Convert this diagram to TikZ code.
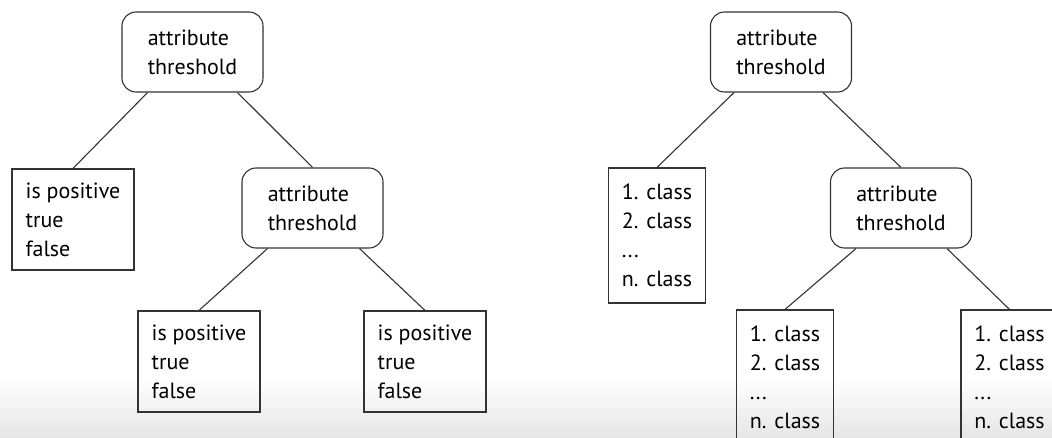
\documentclass[tikz,border=0pt]{standalone}
\usepackage{fontspec}
\setmainfont{PT Sans}
\tikzset{
decision/.style={
	  draw, rounded corners=14pt, align=left,
	    minimum width=141pt, minimum height=80pt},
leafbox/.style={
	  draw, align=left, minimum width=122pt, minimum height=101pt},
classbox/.style={
	  draw, align=left, minimum width=97pt, minimum height=135pt}
}
\newcommand{\split}{attribute\\threshold}
\newcommand{\ispos}{is positive\\true\\false}
\newcommand{\classes}{1. class\\2. class\\...\\n. class}

\begin{document}
\begin{tikzpicture}[x=1pt, y=-1pt, line width=1.1pt, draw=black!80,
	every node/.style={font=\fontsize{22}{29}\selectfont, inner sep=0pt}]
	\useasboundingbox (0,0) rectangle (1052,438);
	\clip (0,0) rectangle (1052,438);
	\shade[top color=white, bottom color=black!10, draw=none] (0,378) rectangle (1052,438);
	% left tree
	\node[decision] (r1) at (192.5,52) {\split};
	\node[leafbox] (p1) at (73,219.5) {\ispos};
	\node[decision] (d1) at (312.5,208) {\split};
	\node[leafbox] (p2) at (199,361.5) {\ispos};
	\node[leafbox] (p3) at (425,361.5) {\ispos};
	\draw ([xshift=-45pt]r1.south) -- (p1.north);
	\draw ([xshift=45pt]r1.south) -- (d1.north);
	\draw ([xshift=-45pt]d1.south) -- (p2.north);
	\draw ([xshift=47pt]d1.south) -- (p3.north);
	% right tree
	\node[decision] (r2) at (781,52) {\split};
	\node[classbox] (c1) at (657,235.5) {\classes};
	\node[decision] (d2) at (901,208) {\split};
	\node[classbox] (c2) at (785,377.5) {\classes};
	\node[classbox] (c3) at (1009.5,377.5) {\classes};
	\draw ([xshift=-47pt]r2.south) -- (c1.north);
	\draw ([xshift=42pt]r2.south) -- (d2.north);
	\draw ([xshift=-45pt]d2.south) -- (c2.north);
	\draw ([xshift=46pt]d2.south) -- (c3.north);
\end{tikzpicture}
\end{document}
